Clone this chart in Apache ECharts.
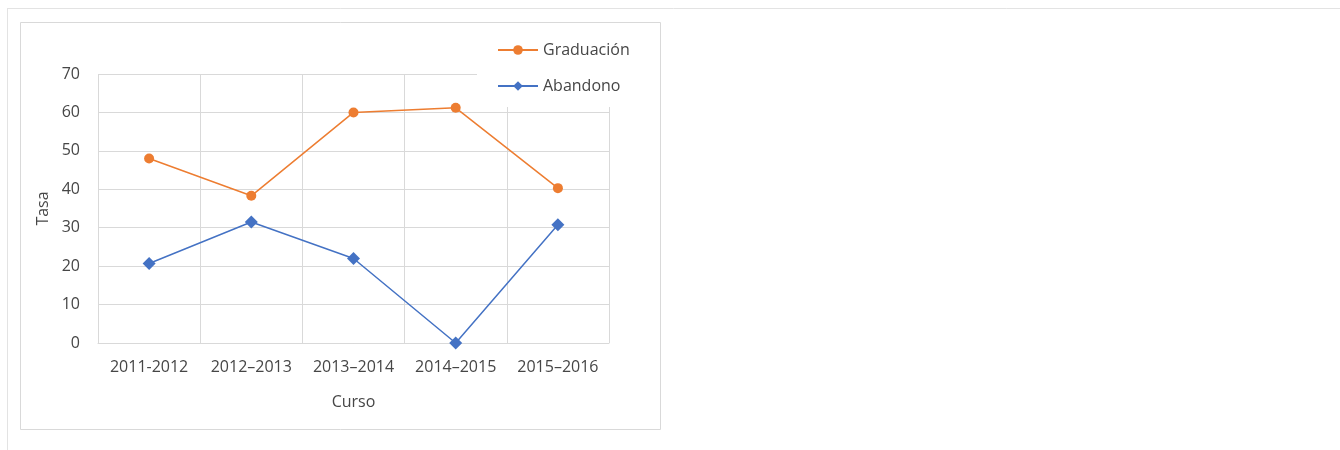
<!DOCTYPE html>
<html>
<head>
<meta charset="utf-8">
<script src="https://cdn.jsdelivr.net/npm/echarts@6/dist/echarts.min.js"></script>
<style>
  html, body { margin: 0; padding: 0; background: #fff; }
  #main { width: 1340px; height: 450px; }
</style>
</head>
<body>
<div id="main"></div>
<script type="text/javascript">
	// datos
	var cursos = ['2011-2012', '2012\u20132013', '2013\u20132014', '2014\u20132015', '2015\u20132016'];
	var graduacion = [48, 38.3, 60, 61.2, 40.3];
	var abandono = [20.7, 31.5, 22, 0, 30.8];
	var yTicks = [0, 70, 10];

	var textColor = '#464646';
	var gridColor = '#d9d9d9';
	var fontFam = '"Open Sans", "Noto Sans", sans-serif';

	var myChart = echarts.init(document.getElementById('main'));

	var option = {
		animation: false,
		backgroundColor: '#fff',
		textStyle: { fontFamily: fontFam },
		graphic: [
			{ type: 'line', shape: { x1: 7, y1: 8.5, x2: 1340, y2: 8.5 }, style: { stroke: '#e3e3e3', lineWidth: 1 }, z: -1 },
			{ type: 'line', shape: { x1: 7.5, y1: 8, x2: 7.5, y2: 450 }, style: { stroke: '#e3e3e3', lineWidth: 1 }, z: -1 },
			{ type: 'rect', shape: { x: 20.5, y: 22.5, width: 640, height: 407 }, style: { fill: 'none', stroke: gridColor, lineWidth: 1 }, z: -1 }
		],
		grid: { left: 98, right: 731, top: 74, bottom: 107 },
		legend: {
			orient: 'vertical',
			left: 477,
			top: 32,
			padding: [10, 30, 13, 20],
			backgroundColor: '#fff',
			itemWidth: 40,
			itemHeight: 12,
			itemGap: 20,
			textStyle: { color: textColor, fontSize: 16, fontFamily: fontFam },
			data: ['Graduación', 'Abandono']
		},
		xAxis: {
			type: 'category',
			data: cursos,
			boundaryGap: true,
			name: 'Curso',
			nameLocation: 'middle',
			nameGap: 51,
			nameTextStyle: { color: textColor, fontSize: 16 },
			axisLine: { lineStyle: { color: gridColor } },
			axisTick: { show: false },
			axisLabel: { color: textColor, fontSize: 16, margin: 16, interval: 0 },
			splitLine: { show: true, interval: 0, lineStyle: { color: gridColor } }
		},
		yAxis: {
			type: 'value',
			min: yTicks[0],
			max: yTicks[1],
			interval: yTicks[2],
			name: 'Tasa',
			nameLocation: 'middle',
			nameGap: 47,
			nameRotate: 90,
			nameTextStyle: { color: textColor, fontSize: 16 },
			axisLine: { show: false },
			axisTick: { show: false },
			axisLabel: { color: textColor, fontSize: 16, margin: 18 },
			splitLine: { lineStyle: { color: gridColor } }
		},
		series: [
			{
				name: 'Graduación',
				type: 'line',
				data: graduacion,
				symbol: 'circle',
				symbolSize: 10,
				itemStyle: { color: '#ED7D31' },
				lineStyle: { color: '#ED7D31', width: 1.5 }
			},
			{
				name: 'Abandono',
				type: 'line',
				data: abandono,
				symbol: 'diamond',
				symbolSize: 13,
				itemStyle: { color: '#4472C4' },
				lineStyle: { color: '#4472C4', width: 1.5 }
			}
		]
	};

	myChart.setOption(option);
</script>
</body>
</html>
